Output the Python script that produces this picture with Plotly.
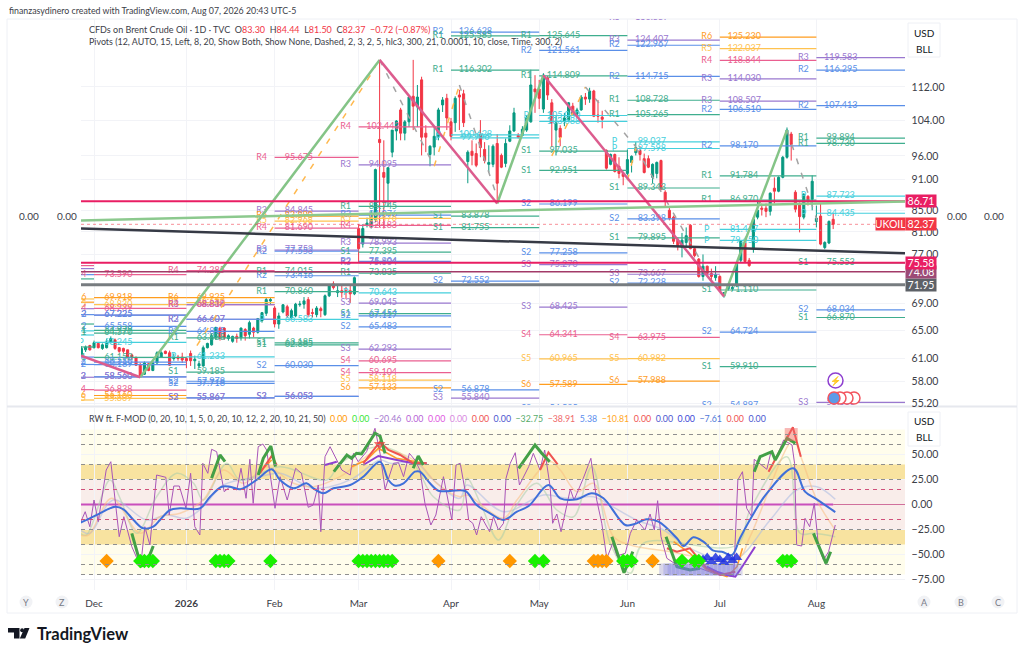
import math
import plotly.graph_objects as go
from plotly.subplots import make_subplots

W, H = 1024, 655
FONT = "Lato"
def px(x): return x / W
def py(y): return 1 - y / H

# ---------- price candles ----------
bar_index = list(range(-3, 177))
opens = [61.6,62.2,62.8,62.5,63.1,62.4,62.5,63.3,63.6,62.5,62.4,62.2,61.5,
 61.1,60.1,58.9,60.3,59.4,60.4,61.2,62.0,61.8,61.0,
 61.2,61.2,61.0,61.7,60.7,60.0,60.0,62.5,62.9,63.9,
 65.3,65.3,63.8,63.4,64.1,63.9,65.1,64.4,65.3,64.7,
 66.4,67.5,69.4,68.3,65.9,67.7,68.5,66.8,67.1,68.8,
 68.9,69.6,67.6,67.3,68.2,67.3,70.2,72.1,70.7,71.0,
 71.0,71.0,70.5,
 81.6,78.8,82.2,82.0,83.3,99.6,92.5,
 90.3,96.8,101.5,106.4,101.0,103.6,109.7,107.1,113.8,101.0,
 96.3,97.9,100.3,107.6,109.2,103.6,103.4,110.0,110.3,94.8,
 97.0,96.5,100.8,97.4,94.2,94.2,98.7,96.1,94.4,99.2,
 101.5,100.5,100.5,101.7,103.6,111.5,111.5,106.6,114.3,108.1,
 101.7,102.1,103.8,104.0,107.3,105.4,106.4,109.5,109.0,111.0,
 105.2,104.7,97.2,94.2,96.3,93.8,92.3,92.3,94.6,96.7,
 97.2,95.4,95.4,91.5,92.3,95.0,88.5,85.0,83.7,79.5,
 78.2,79.1,82.2,78.0,76.2,73.3,75.0,73.8,73.1,73.3,
 70.2,71.3,71.3,71.8,76.0,79.0,76.0,78.0,83.7,85.4,
 85.4,84.8,89.3,88.7,91.5,95.7,100.8,88.5,86.1,83.7,
 87.7,87.1,82.9,83.9,78.2,79.0,83.30]
highs = [62.7,62.8,62.9,63.5,63.2,63.1,63.8,64.1,63.8,62.6,62.5,62.2,61.7,
 61.3,60.4,60.6,60.4,60.6,62.0,62.0,62.1,62.1,61.7,
 61.5,61.8,61.2,62.1,61.4,60.7,62.8,63.2,64.5,65.5,
 65.5,65.4,64.4,64.2,64.5,65.4,65.3,66.4,65.5,66.8,
 67.7,69.9,69.9,68.6,67.6,68.9,68.8,68.2,69.1,69.4,
 70.0,70.0,68.2,68.6,68.5,70.4,72.0,72.5,71.8,71.8,
 71.6,72.0,73.3,
 82.4,82.4,83.6,85.0,93.3,119.0,99.4,
 93.5,101.7,104.0,106.9,104.0,110.0,119.0,112.5,114.6,102.8,
 98.3,102.3,106.9,109.5,110.3,104.5,109.7,111.3,111.3,97.2,
 99.4,98.7,104.0,99.0,98.3,98.5,100.8,96.5,99.8,102.8,
 106.9,101.0,102.6,105.2,116.4,115.0,113.8,115.5,114.8,109.0,
 104.9,102.8,105.7,108.3,108.1,106.9,110.0,110.5,111.8,111.3,
 108.8,106.2,97.4,96.5,96.5,95.7,92.5,97.4,96.1,99.0,
 98.1,96.5,96.1,94.4,94.8,95.2,88.9,85.6,84.0,80.0,
 80.8,81.8,82.4,78.2,76.4,77.0,75.1,74.6,75.0,73.5,
 70.8,72.1,72.0,75.8,79.5,79.1,76.4,83.7,86.9,86.3,
 86.3,88.5,91.5,91.7,96.0,102.3,101.3,88.9,86.5,88.3,
 87.9,91.9,85.9,86.3,79.3,83.1,84.44]
lows = [61.4,61.9,62.1,62.4,62.4,62.2,62.4,63.1,62.2,61.8,61.7,61.0,60.8,
 60.0,58.5,58.8,59.3,59.3,60.3,61.1,61.6,60.0,60.7,
 60.7,60.4,59.7,60.0,59.6,59.7,59.9,62.4,62.8,63.6,
 63.5,63.6,63.5,63.2,63.2,63.5,63.5,63.8,64.0,64.5,
 66.1,67.1,68.8,65.4,65.2,67.5,66.8,66.7,66.9,68.5,
 68.2,66.9,66.9,66.9,66.9,67.1,70.0,71.2,70.0,69.9,
 69.7,69.1,70.3,
 75.6,78.2,81.8,81.6,82.8,81.8,81.6,
 85.6,95.7,99.4,99.4,99.4,102.4,101.7,102.4,96.1,96.8,
 93.8,96.1,99.4,105.9,101.7,99.4,101.3,101.7,102.4,90.3,
 94.0,93.6,95.7,94.4,92.5,93.6,86.9,93.4,93.6,99.0,
 101.3,99.8,100.3,101.3,103.4,105.7,106.6,105.7,108.8,97.9,
 96.1,98.1,102.6,103.6,105.2,104.7,106.2,107.6,108.1,104.7,
 103.4,102.1,93.1,94.0,92.5,91.3,89.9,91.9,92.5,96.1,
 95.0,92.3,93.4,90.3,91.3,88.9,85.7,83.1,78.8,77.7,
 76.5,78.2,77.9,76.5,73.1,72.6,73.5,72.6,72.6,70.8,
 69.9,71.0,71.0,71.6,75.6,75.6,74.9,77.3,83.3,84.0,
 83.7,84.0,86.3,88.5,91.3,95.4,95.0,84.6,80.9,83.3,
 85.9,85.0,81.8,78.6,77.9,78.8,81.50]
closes = [62.4,62.6,62.2,63.2,62.5,62.9,63.3,63.8,62.4,62.0,62.0,61.2,61.1,
 60.1,58.7,60.4,59.4,60.4,61.8,61.8,61.7,60.1,61.1,
 61.0,60.8,60.7,60.7,60.9,60.3,62.5,63.1,64.2,65.4,
 63.8,63.9,64.2,64.1,63.8,65.3,64.2,66.1,64.7,66.7,
 67.6,69.6,69.6,65.9,67.1,68.8,67.1,67.9,68.9,68.9,
 69.4,67.3,67.5,68.3,67.9,70.2,71.8,71.5,71.0,70.7,
 70.7,70.5,73.1,
 78.0,81.6,82.6,84.4,93.1,98.9,91.5,
 93.5,101.7,103.8,101.0,103.6,109.5,107.3,109.5,100.1,100.1,
 98.1,100.3,106.4,108.8,104.5,100.3,109.2,109.5,103.4,96.8,
 96.1,94.0,97.8,95.0,94.6,98.1,90.3,93.6,98.7,101.5,
 105.7,100.1,101.9,104.5,112.5,110.8,109.2,115.0,110.0,103.4,
 103.4,100.1,104.5,108.1,105.4,106.4,109.5,109.0,111.0,104.9,
 104.9,104.2,93.4,96.3,92.7,92.3,91.7,95.2,95.9,97.8,
 96.3,92.5,93.6,94.2,94.6,89.1,86.7,83.5,79.3,78.4,
 79.5,80.3,78.0,76.8,73.3,75.0,73.8,73.3,73.6,71.0,
 70.7,71.8,71.5,75.6,79.3,75.8,75.1,83.3,85.0,85.2,
 84.8,88.3,88.7,91.5,95.7,101.7,98.5,85.2,83.8,88.1,
 86.7,90.7,83.5,78.8,79.1,82.9,82.37]

month_ticks = [0, 22, 43, 63, 85, 106, 127, 149, 172]
month_labels = ["Dec", "<b>2026</b>", "Feb", "Mar", "Apr", "May", "Jun", "Jul", "Aug"]
X_MIN, X_MAX = -3.1, 193.1

price_ticks = [112, 104, 96, 91, 85, 81, 77, 69, 65, 61, 58, 55.2]
osc_ticks = [50, 25, 0, -25, -50, -75]

# ---------- pivot levels per monthly period ----------
period_nov = [("R4",75.1),("R3",74.6),("R2",73.6),("R1",72.9),("R5",69.7),("R6",69.2),("R3",68.2),("R2",67.3),
              ("R1",65.9),("P",64.9),("P",64.3),("S1",62.6),("S2",61.2),("S2",60.2),("S3",58.5),("S4",56.9),("S5",55.6),("S3",54.9)]
period_dec = [("R4",73.590),("R6",69.918),("R5",68.830),("R4",68.239),("R3",67.225),("R2",67.225),("R2",65.558),
              ("R1",64.979),("R1",64.570),("P",63.245),("S1",61.152),("S2",60.510),("S2",60.189),("S2",58.560),("S3",58.560),
              ("S4",56.838),("S6",56.160),("S5",55.809)]
period_jan = [("R4",74.285),("R6",69.925),("R5",69.130),("R3",68.816),("R4",68.838),("R2",66.607),("R3",66.607),("R2",64.815),
              ("R1",63.888),("P",61.233),("S1",59.185),("S2",57.978),("S2",57.718),("S2",55.867),("S3",55.867)]
period_feb = [("R4",95.675),("R3",84.845),("R6",83.890),("R5",82.968),("R4",81.690),("R2",77.553),("R3",77.752),("R1",74.015),
              ("R2",73.416),("R1",70.860),("P",66.583),("S1",63.185),("S1",62.885),("S2",60.030),("S2",56.053),("S3",56.053)]
period_mar = [("R4",102.443),("R3",94.095),("R1",85.745),("R2",84.076),("R5",83.476),("R4",82.183),("R3",78.993),("S1",77.395),
              ("R2",75.804),("R3",75.604),("R1",73.835),("P",70.643),("S3",69.045),("S1",67.454),("S2",67.117),("S2",65.483),
              ("S3",62.293),("S4",60.695),("S4",59.104),("S5",58.118),("S6",57.133)]
period_apr = [("R2",126.628),("R1",125.585),("R1",116.302),("P",100.628),("P",99.946),("S1",83.878),("S1",81.755),
              ("S2",72.552),("S2",56.878),("S3",55.840)]
period_may = [("R1",125.645),("R2",121.561),("R1",114.809),("P",105.080),("P",103.688),("S1",97.035),("S1",92.951),("S2",86.199),
              ("S2",77.258),("S3",75.270),("S3",68.425),("S4",64.341),("S5",60.965),("S6",57.589),("S2",54.525)]
period_jun = [("R3",130.887),("R3",124.407),("R2",122.967),("R2",114.715),("R1",108.728),("R1",105.265),("P",99.037),("P",97.598),
              ("S1",89.343),("S2",83.398),("S1",79.895),("S3",73.667),("S2",72.228),("S4",63.975),("S5",60.982),("S6",57.988)]
period_jul = [("R6",125.230),("R5",122.037),("R4",118.844),("R3",114.030),("R3",108.507),("R2",106.510),("R2",98.170),("R1",91.784),
              ("R1",86.970),("P",81.447),("P",79.450),("S1",71.110),("S2",64.724),("S1",59.910),("S2",54.897)]
period_aug = [("R3",130.970),("R3",119.583),("R2",116.295),("R2",107.413),("R1",99.894),("R1",98.730),("P",87.723),("P",84.435),
              ("S1",75.553),("S2",68.034),("S1",66.870),("S3",55.300)]
periods = [(-3.1, 0, period_nov, False), (0, 22, period_dec, True), (22, 43, period_jan, True), (43, 63, period_feb, True),
           (63, 85, period_mar, True), (85, 106, period_apr, True), (106, 127, period_may, True), (127, 149, period_jun, True),
           (149, 172, period_jul, True), (172, 193.1, period_aug, True)]
level_colors = {"R1":"#3fae8e","S1":"#3fae8e","R2":"#5a8fe8","S2":"#5a8fe8","R3":"#9a78cf","S3":"#9a78cf",
                "R4":"#ea5f90","S4":"#ea5f90","R5":"#ffc24f","S5":"#ffc24f","R6":"#ff9d1f","S6":"#ff9d1f","P":"#45cfdc"}

# ---------- zigzags and trend lines ----------
zig_up_x = [11, 68, None, 96, 107, None, 150, 165]
zig_up_y = [58.5, 119.0, None, 86.3, 115.0, None, 70.1, 101.7]
zig_dn_x = [-3.1, 11, None, 68, 96, None, 107, 150]
zig_dn_y = [61.4, 58.5, None, 119.0, 86.3, None, 115.0, 70.1]
dash_up_x = [24.5, 67, None, 81, 87, None, 109, 117, None, 127, 129]
dash_up_y = [62.8, 117.0, None, 93.8, 112.5, None, 96.0, 112.0, None, 90.9, 97.8]
dash_dn_x = [68, 81, None, 87, 96, None, 117, 129, None, 129, 144, None, 165, 173]
dash_dn_y = [119.0, 93.8, None, 112.5, 87.5, None, 112.0, 98.0, None, 97.8, 76.5, None, 101.7, 81.2]
green_trend_x = [-3.1, 193.1]; green_trend_y = [83.1, 86.7]
black_trend_x = [-3.1, 193.1]; black_trend_y = [81.6, 77.2]
hlines = [(86.71, "#e91e63", 2.0), (75.58, "#e91e63", 2.0), (74.08, "#a23a68", 1.5), (71.95, "#777c80", 3.0)]
last_price = 82.37

# ---------- oscillator ----------
blue_x = [-3.3,-1,1.4,5,7,9.4,11.7,14.1,15.7,18.1,20.5,25.2,27.6,30.4,32.4,34.8,36.3,38.7,42.3,44.3,47.5,50.6,52.2,54.6,57,61,64.1,68.1,70.1,71.7,73.7,76.4,77.6,80,82,84.8,88.4,91.1,94.3,97.5,100.7,103.5,108.2,111,115,118.5,121.3,126.5,128.5,131.6,134.4,138.8,140.4,142.7,145.1,147.5,149.5,151.9,153.8,156.6,160.2,166.5,169.3,172.1,176.5]
blue_y = [-18.2,-13.8,-8.8,-2.2,-4.8,-15.5,-23.8,-22.2,-15.5,-5.5,-3.8,-3.8,7.5,17.8,17.8,15.2,17.8,24.5,35.2,24.5,16.2,21.2,16.2,11.2,16.2,19.5,27.8,42.8,24.5,18.8,21.2,32.8,32.8,21.2,13.8,13.5,13.5,-0.5,-8.8,-15.5,-7.2,-1.5,19.5,6.2,5.2,11.2,6.2,-20.5,-19.8,-14.8,-17.2,-33.8,-41.5,-32.8,-37.2,-46.2,-47.2,-50.5,-33.8,-12.2,11.2,36.2,12.8,5.2,-7.6]
thin_x = [-3.3,-2.1,-1,0,1,2.9,4,5,6,7.1,9,11.1,12.1,13.3,14.9,17.1,17.9,19,20.3,21.9,23,24,25.2,25.9,27.1,28,29.2,31,32.4,34,35,36.2,37.1,37.9,39.1,40.2,41.1,43.1,44.3,46,48,49.4,51,52.2,53.4,54,55,56.2,59,61,61.8,62.9,64.9,66.9,68.1,69.3,71.3,72.5,73.7,75.1,76.4,77.6,78.8,80.2,81.4,83.2,85.2,86.2,87.2,88.4,89.2,90.2,91.1,92.2,94.2,95.1,96.3,97.5,98.1,99.1,100.3,101.3,103.5,104.6,106.2,107.3,108.6,109.2,110.2,111.2,113.4,114.3,116.5,118.3,119.7,120.9,122.1,123.5,124.5,126.5,127.7,129.2,131.2,132.4,133.4,134.2,135,136.4,138.8,141.9,144.3,147.5,152.3,153.3,154.4,155.4,156.6,157.2,160.2,161.2,162.2,164.2,166.2,166.8,167.3,168.5,169.3,170.4,171.5,172.5,173.7,174.9,176.5]
thin_y = [-18.8,-7.2,-22.2,4.5,-17.2,34.5,42.8,7.8,-32.2,-12.2,-42.2,-62.2,-22.2,-40.5,29.5,27.2,-10.5,18.5,18.5,-3.8,31.2,-22.2,-30.5,41.2,31.2,55.2,52.8,12.8,17.8,14.5,36.2,6.2,45.2,1.2,57.8,60.5,54.5,-3.8,27.8,4.5,36.2,31.2,-2.8,-0.5,19.5,-27.2,47.8,57.8,34.5,29.5,51.2,42.8,52.8,76.2,51.2,15.2,41.2,41.8,27.8,51.2,44.5,34.5,1.2,-20.5,-10.5,27.8,-15.5,39.5,41.2,12.8,-15.5,-18.8,-30.5,-12.2,-27.2,-12.2,-25.5,-18.8,26.2,41.2,51.8,19.5,37.8,51.2,34.5,54.5,17.8,-18.8,-9.5,-27.2,15.2,4.5,26.2,46.2,4.5,-18.8,-53.8,-38.8,-51.5,-48.8,-28.8,-15.5,-25.5,-9.5,-25.5,3.8,-32.2,-53.8,-60.5,-57.2,-63.8,-68.8,-72.2,24.5,32.8,-3.8,-12.2,45.2,35.2,52.8,44.5,64.5,59.5,41.2,-40.5,-41.5,-13.8,-22.2,1.2,-42.2,-55.5,-47.2,-20.5]
green_x = [9,11.2,12.5,14.1,None,28,30,31.2,None,39.1,40.3,42.1,43.2,None,57.1,60.2,61.3,62.5,63.7,66.9,68.1,69.3,None,76,77.2,78.4,None,101.1,105,106.6,108.5,None,123.3,126.2,128.3,None,136.2,138.8,141.9,144.3,None,157.2,158.6,161.4,162.2,165,167,None,171.3,174.3,175.4]
green_y = [-28.8,-61.5,-58.8,-41.5,None,26.2,49.5,42.8,None,29.5,46.2,58.5,37.8,None,32.8,49.5,46.2,51.2,50.5,71.2,68.5,51.2,None,36.2,48.5,39.5,None,36.2,59.5,51.2,42.8,None,-32.2,-68.2,-47.2,None,-32.2,-62.2,-65.5,-63.8,None,32.8,47.8,52.8,44.5,66.2,61.2,None,-28.8,-58.8,-47.2]
red_x = [28,29.6,None,39.5,42.3,43.5,None,64.1,68.1,70.1,72.9,76,79.2,None,106.2,108.2,110.4,None,136.4,138.8,141.9,145.9,149.1,152.7,None,160.6,166.4,168.3]
red_y = [27.8,42.8,None,31.2,48.5,39.5,None,41.2,62.8,54.5,49.5,41.2,41.2,None,34.5,52.2,40.2,None,-43.8,-47.2,-43.8,-63.8,-70.5,-67.2,None,32.8,77.2,47.8]
orange_x = [39.5,42.3,None,61.3,64.9,67.7,72,76.8,79.2,None,138,141.9,145.9,150.7,153.1,154.4]
orange_y = [32.8,44.5,None,37.8,44.5,56.2,46.2,42.8,41.2,None,-37.2,-48.8,-65.5,-72.2,-62.2,-43.8]
violet_x = [55,57.8,None,64.1,67.7,72.1,76,79.2,None,145.9,148.3,150.7,152.7,154.6,157.4]
violet_y = [39.5,42.8,None,39.5,48.5,44.5,41.2,41.2,None,-62.2,-67.2,-70.5,-72.2,-60.5,-42.2]
fade_blue_x = [-3.3,-1,4.6,12.5,17.3,22,26,30.8,39.5,44.3,52.2,56.2,61.7,68.1,70.5,76.8,80.8,87.1,88.8,97.5,107,112.6,118.9,122.1,129.2,135.6,141.9,152.3,161,167.3,172.1,176.5]
fade_blue_y = [-25.5,-28.8,4.5,-15.5,-10.5,-13.8,-2.2,19.5,27.8,31.2,16.2,17.8,26.2,44.5,41.2,41.2,24.5,6.2,19.5,-7.2,9.5,6.2,7.8,1.2,-15.5,-25.5,-43.8,-55.5,-15.5,14.5,17.8,5.2]
fade_green_x = [-3.3,-1.8,3.8,6.2,10.2,14.9,19.7,23.7,26,31.6,34.8,44.3,55.4,58.6,68.1,76,80.8,87.1,88.8,92,96.3,99.9,105.4,110.2,114.2,118.5,122.9,127.7,130.8,153,156.2,165,168.1,171.3,176.5]
fade_green_y = [-28.8,-30.5,24.5,6.2,-28.8,7.8,31.2,21.2,4.5,41.2,24.5,37.8,24.5,41.2,57.8,41.2,7.8,-5.5,26.2,1.2,-35.5,-5.5,21.2,-5.5,-12.2,37.8,-38.8,-68.8,-38.8,-40.5,-5.5,47.8,-28.8,-28.8,-32.2]
fade_orange_x = [-3.3,-1.3,4.2,11,15.7,20.5,26,30.8,35.6,41.1,47.5,52.2,58.6,68.1,76.8,81.6,87.1,88.8,97.5,100.7,108.6,111,115,118.9,123.7,127.7,137.2,153,156.2,166.5,168.3,172.1,176.5]
fade_orange_y = [-30.5,-30.5,6.2,-28.8,-12.2,-8.8,4.5,34.5,21.2,37.8,21.2,17.8,27.8,54.5,42.8,21.2,7.8,9.5,-13.8,4.5,42.8,34.5,12.8,21.2,-32.2,-40.5,-47.2,-55.5,-32.2,64.5,47.8,4.5,-25.5]

diamond_level = -56.5
diamond_green_x = [11,12,13,14,29,30,31,32,42,63,64,65,66,67,68,69,70,71,105,107,126,127,128,140,143,144,164,165,166]
diamond_orange_x = [3,82,99,119,120,121,122,133]
triangle_x = [145,146,147,148,149,150,151,152,153]
triangle_y = [-55,-53,-57,-53,-55,-58,-53,-56,-53]
square_x = [136,137,138,139,140,141,142,143,144,145,146,147,148,149,150,151,152,153]
square_level = -65
band_levels_gray = [70, 60, 40, 25, -25, -40, -60, -70]
band_levels_red = [15, -15]

legend_vals = [("0.00","#ff9800"),("0.00","#37e637"),("−20.46","#a678cf"),("0.00","#b65fd6"),("0.00","#e056e0"),("0.00","#d88ae0"),
               ("0.00","#ef5350"),("0.00","#4c55cf"),("−32.75","#57ab6a"),("−38.91","#ef6a6a"),("5.38","#5b8dee"),("−10.81","#ffa726"),
               ("0.00","#ef5350"),("0.00","#4c55cf"),("0.00","#3b46d6"),("−7.61","#4f78d8"),("0.00","#ef5350"),("0.00","#4c55cf")]

GREEN, RED = "#089981", "#f23645"
fig = make_subplots(rows=2, cols=1, shared_xaxes=False)

# pivot lines and labels
seg = {}
lab_x, lab_y, lab_t, lab_c = [], [], [], []
for start, end, levels, labelled in periods:
    for name, val in levels:
        c = level_colors[name]
        s = seg.setdefault(c, ([], []))
        s[0].extend([start, end, None]); s[1].extend([val, val, None])
        if labelled:
            lab_x += [start - 3.1, start + 5.8]
            lab_y += [val, val]
            lab_t += [name, f"{val:.3f}"]
            lab_c += [c, c]
for c, (xs, ys) in seg.items():
    fig.add_trace(go.Scatter(x=xs, y=ys, mode="lines", line=dict(color=c, width=1.2), hoverinfo="skip"), row=1, col=1)
fig.add_trace(go.Scatter(x=lab_x, y=lab_y, mode="text", text=lab_t, textposition="middle center",
                         textfont=dict(family=FONT, size=9, color=lab_c), hoverinfo="skip"), row=1, col=1)

fig.add_trace(go.Candlestick(x=bar_index, open=opens, high=highs, low=lows, close=closes,
    increasing=dict(line=dict(color=GREEN, width=1), fillcolor=GREEN),
    decreasing=dict(line=dict(color=RED, width=1), fillcolor=RED), whiskerwidth=0, hoverinfo="skip"), row=1, col=1)

for xs, ys, c, w, d in [(dash_up_x, dash_up_y, "#ffb84d", 1.5, "6px,9px"), (dash_dn_x, dash_dn_y, "#a3a3a3", 1.5, "6px,9px"),
                        (zig_up_x, zig_up_y, "#84c487", 2.5, "solid"), (zig_dn_x, zig_dn_y, "#dc5c8e", 2.5, "solid")]:
    fig.add_trace(go.Scatter(x=xs, y=ys, mode="lines", line=dict(color=c, width=w, dash=d), connectgaps=False, hoverinfo="skip"), row=1, col=1)
for val, c, w in hlines:
    fig.add_trace(go.Scatter(x=[X_MIN, X_MAX], y=[val, val], mode="lines", line=dict(color=c, width=w), hoverinfo="skip"), row=1, col=1)
fig.add_trace(go.Scatter(x=[X_MIN, X_MAX], y=[last_price, last_price], mode="lines",
                         line=dict(color="rgba(242,54,69,0.55)", width=1, dash="dot"), hoverinfo="skip"), row=1, col=1)
fig.add_trace(go.Scatter(x=green_trend_x, y=green_trend_y, mode="lines", line=dict(color="#8cc98e", width=2.5), hoverinfo="skip"), row=1, col=1)
fig.add_trace(go.Scatter(x=black_trend_x, y=black_trend_y, mode="lines", line=dict(color="#363a45", width=2.5), hoverinfo="skip"), row=1, col=1)

# oscillator
fig.add_trace(go.Scatter(x=[X_MIN, 176], y=[0, 0], mode="lines", line=dict(color="#c94fbc", width=2), hoverinfo="skip"), row=2, col=1)
fig.add_trace(go.Scatter(x=[176, X_MAX], y=[0, 0], mode="lines", line=dict(color="#d0709c", width=1), hoverinfo="skip"), row=2, col=1)
for xs, ys, c, w, sh in [(fade_blue_x, fade_blue_y, "rgba(170,185,225,0.55)", 1.5, "spline"), (fade_green_x, fade_green_y, "rgba(170,205,170,0.55)", 1.5, "spline"),
                     (fade_orange_x, fade_orange_y, "rgba(250,190,130,0.55)", 1.5, "spline"), (thin_x, thin_y, "#a855b8", 1.0, "linear"),
                     (orange_x, orange_y, "#ff9a2e", 1.6, "linear"), (violet_x, violet_y, "#8e3fd0", 2, "linear"), (red_x, red_y, "#ef5350", 2, "linear"),
                     (green_x, green_y, "#43a047", 3, "linear"), (blue_x, blue_y, "#3f6fd9", 2, "spline")]:
    fig.add_trace(go.Scatter(x=xs, y=ys, mode="lines", line=dict(color=c, width=w, shape=sh), connectgaps=False, hoverinfo="skip"), row=2, col=1)
fig.add_trace(go.Scatter(x=square_x, y=[square_level] * len(square_x), mode="markers",
                         marker=dict(symbol="square", size=12, color="rgba(120,120,225,0.28)"), hoverinfo="skip"), row=2, col=1)
fig.add_trace(go.Scatter(x=triangle_x, y=triangle_y, mode="markers",
                         marker=dict(symbol="triangle-up", size=10, color="rgba(30,50,225,0.85)"), hoverinfo="skip"), row=2, col=1)
fig.add_trace(go.Scatter(x=diamond_green_x, y=[diamond_level] * len(diamond_green_x), mode="markers",
                         marker=dict(symbol="diamond", size=11, color="#19f000"), hoverinfo="skip"), row=2, col=1)
fig.add_trace(go.Scatter(x=diamond_orange_x, y=[diamond_level] * len(diamond_orange_x), mode="markers",
                         marker=dict(symbol="diamond", size=11, color="#ff9800"), hoverinfo="skip"), row=2, col=1)
fig.add_trace(go.Scatter(x=[166], y=[70], mode="markers", marker=dict(symbol="square", size=13, color="rgba(240,100,100,0.45)"), hoverinfo="skip"), row=2, col=1)
fig.add_trace(go.Scatter(x=[68], y=[60], mode="markers", marker=dict(symbol="triangle-down", size=10, color="rgba(240,60,60,0.7)"), hoverinfo="skip"), row=2, col=1)

shapes = []
# card
shapes.append(dict(type="rect", xref="paper", yref="paper", x0=px(7), x1=px(1017), y0=py(613), y1=py(19),
                   line=dict(color="#eef0f5", width=1), layer="below"))
shapes.append(dict(type="line", xref="paper", yref="paper", x0=px(7), x1=px(1017), y0=py(406.5), y1=py(406.5),
                   line=dict(color="#e6e8ee", width=2), layer="below"))
# bands
def band(a, b, col):
    shapes.append(dict(type="rect", xref="x2", yref="y2", x0=X_MIN, x1=X_MAX, y0=a, y1=b, fillcolor=col, line_width=0, layer="below"))
band(-70, 75, "#fffdec"); band(25, 40, "#f8e3a0"); band(-40, -25, "#f8e3a0"); band(-25, 25, "#f9edea")
for v in band_levels_gray:
    shapes.append(dict(type="line", xref="x2", yref="y2", x0=X_MIN, x1=X_MAX, y0=v, y1=v, line=dict(color="#8f8f8f", width=1, dash="4px,4px"), layer="above"))
for v in band_levels_red:
    shapes.append(dict(type="line", xref="x2", yref="y2", x0=X_MIN, x1=X_MAX, y0=v, y1=v, line=dict(color="#d0507a", width=1, dash="4px,4px"), layer="above"))
# USD/BLL boxes
for top in (23, 412):
    shapes.append(dict(type="rect", xref="paper", yref="paper", x0=px(908), x1=px(940), y0=py(top + 34), y1=py(top),
                       fillcolor="white", line=dict(color="#eef0f5", width=1), layer="above"))
# round letter chips
for cx, lab in [(26, "Y"), (62, "Z"), (924, "A"), (961, "B"), (998, "C")]:
    shapes.append(dict(type="circle", xref="paper", yref="paper", x0=px(cx - 6.5), x1=px(cx + 6.5), y0=py(608.5), y1=py(595.5),
                       fillcolor="#f1f2f5", line_width=0, layer="below"))
# lightning and flags
shapes.append(dict(type="circle", xref="paper", yref="paper", x0=px(828), x1=px(843), y0=py(388), y1=py(373),
                   fillcolor="white", line=dict(color="#8e3fd0", width=1.5), layer="above"))
for cx in (854, 847, 840):
    shapes.append(dict(type="circle", xref="paper", yref="paper", x0=px(cx - 6), x1=px(cx + 6), y0=py(404), y1=py(392),
                       fillcolor="white", line=dict(color="#f2555f", width=1.5), layer="above"))
shapes.append(dict(type="circle", xref="paper", yref="paper", x0=px(828), x1=px(840), y0=py(404), y1=py(392),
                   fillcolor="#5b9be8", line=dict(color="#f2555f", width=1.5), layer="above"))
def to_paper_path(points):
    out = []
    for kind, x, y in points:
        out.append(f"{kind} {px(x):.5f} {py(y):.5f}")
    return " ".join(out) + " Z"
shapes.append(dict(type="path", xref="paper", yref="paper", fillcolor="#131722", line_width=0,
                   path=to_paper_path([("M",8,628),("L",19.5,628),("L",19.5,638.5),("L",14,638.5),("L",14,632.5),("L",8,632.5)])))
shapes.append(dict(type="path", xref="paper", yref="paper", fillcolor="#131722", line_width=0,
                   path=to_paper_path([("M",24.5,628),("L",29.5,628),("L",25.2,638.5),("L",19.8,638.5)])))
shapes.append(dict(type="circle", xref="paper", yref="paper", x0=px(20.2), x1=px(24), y0=py(632.2), y1=py(628.2), fillcolor="#131722", line_width=0))

TXT = "#3c4048"
def note(x, y, text, size=10, color=TXT, anchor="left", **kw):
    return dict(xref="paper", yref="paper", x=px(x), y=py(y), text=text, showarrow=False, xanchor=anchor, yanchor="middle",
                font=dict(family=FONT, size=size, color=color), align="left", **kw)
ann = [note(7, 10.5, "finanzasydinero created with TradingView.com, Aug 07, 2026 20:43 UTC-5", 8.8)]
red_span = lambda s: f'<span style="color:{RED}">{s}</span>'
ann.append(note(86.5, 29.5, "CFDs on Brent Crude Oil · 1D · TVC  O" + red_span("83.30") + "  H" + red_span("84.44") + "  L" + red_span("81.50")
                + "  C" + red_span("82.37") + "  " + red_span("−0.72 (−0.87%)"), 9))
ann.append(note(86.5, 41.5, "Pivots (12, AUTO, 15, Left, 8, 20, Show Both, Show None, Dashed, 2, 3, 2, 5, hlc3, 300, 21, 0.0001, 10, close, Time, 300, 2)", 8.9))
leg = "RW ft. F-MOD (0, 20, 10, 1, 5, 0, 20, 10, 12, 2, 20, 10, 21, 50)  " + "  ".join(f'<span style="color:{c}">{t}</span>' for t, c in legend_vals)
ann.append(note(86.5, 418, leg, 8.8))
for x in (29, 66.5, 957, 994):
    ann.append(note(x, 216, "0.00", 10, anchor="center"))
for top in (23, 412):
    ann.append(note(924, top + 9.5, "USD", 10, "#131722", "center"))
    ann.append(note(924, top + 25.5, "BLL", 10, "#131722", "center"))
for cx, lab in [(26, "Y"), (62, "Z"), (924, "A"), (961, "B"), (998, "C")]:
    ann.append(note(cx, 602, lab, 9, "#787b86", "center"))
ann.append(note(835.5, 381, "⚡", 9, "#8e3fd0", "center"))
ann.append(note(34.5, 633.5, "<b>TradingView</b>", 16.5, "#131722"))
def price_box(val, col, x=905, w=30, label=None):
    return dict(xref="paper", yref="y", x=px(x), y=math.log10(val), text=f"{val:.2f}" if label is None else label, showarrow=False,
                xanchor="left", yanchor="middle", width=w, height=12, bgcolor=col, borderpad=0,
                font=dict(family=FONT, size=10.5, color="white"), align="center")
ann += [price_box(71.95, "#5d6167"), price_box(74.08, "#9c4a76"), price_box(75.58, "#e91e63"),
        price_box(86.71, "#e91e63"), price_box(82.37, RED), price_box(82.37, RED, x=875, w=29, label="UKOIL")]

grid = "#f2f3f7"
common_x = dict(range=[X_MIN, X_MAX], tickmode="array", tickvals=month_ticks, showgrid=True, gridcolor=grid, gridwidth=1,
                zeroline=False, showline=False, automargin=False)
fig.update_layout(
    width=W, height=H, autosize=False, margin=dict(l=0, r=0, t=0, b=0), showlegend=False,
    paper_bgcolor="white", plot_bgcolor="white", shapes=shapes, annotations=ann, hovermode=False,
    xaxis=dict(domain=[px(81), px(905)], showticklabels=False, ticktext=month_labels, rangeslider=dict(visible=False), anchor="y", **common_x),
    xaxis2=dict(domain=[px(81), px(905)], ticktext=month_labels, anchor="y2", ticks="outside", ticklen=4, tickcolor="rgba(0,0,0,0)",
                tickfont=dict(family=FONT, size=10, color=TXT), **common_x),
    yaxis=dict(domain=[py(405), py(19)], type="log", range=[math.log10(54.98), math.log10(130.4)], side="right", anchor="x",
               tickmode="array", tickvals=price_ticks, ticktext=[f"{v:.2f}" for v in price_ticks], showgrid=True, gridcolor=grid, automargin=False,
               zeroline=False, ticks="outside", ticklen=3.5, tickcolor="rgba(0,0,0,0)", tickfont=dict(family=FONT, size=10.5, color=TXT)),
    yaxis2=dict(domain=[py(590), py(408)], range=[-85.5, 96.5], side="right", anchor="x2", automargin=False,
                tickmode="array", tickvals=osc_ticks, ticktext=[f"{v:.2f}".replace("-", "−") for v in osc_ticks], showgrid=True, gridcolor=grid,
                zeroline=False, ticks="outside", ticklen=3.5, tickcolor="rgba(0,0,0,0)", tickfont=dict(family=FONT, size=10.5, color=TXT)),
)
fig.write_html("out.html", config={"displayModeBar": False},
               post_script="document.body.style.margin='0';document.documentElement.style.overflow='hidden';")
